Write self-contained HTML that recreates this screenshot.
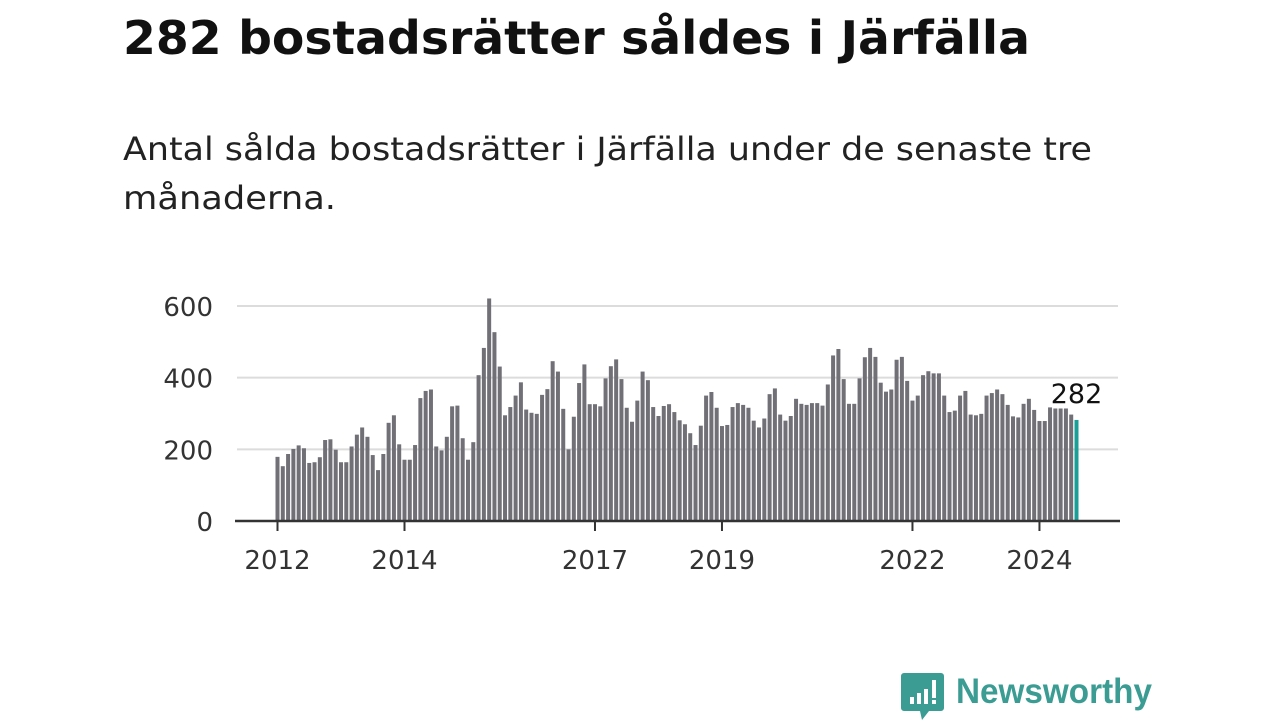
<!DOCTYPE html>
<html><head><meta charset="utf-8"><style>
body{margin:0;width:1280px;height:720px;background:#fff;overflow:hidden;font-family:"DejaVu Sans","Liberation Sans",sans-serif;}
svg{position:absolute;left:0;top:0}
</style></head><body>
<svg width="1280" height="720">
<text x="123" y="54" font-size="46" font-weight="bold" fill="#111" textLength="907" lengthAdjust="spacingAndGlyphs" font-family="DejaVu Sans, sans-serif">282 bostadsrätter såldes i Järfälla</text>
<g font-size="32" fill="#222" font-family="DejaVu Sans, sans-serif">
<text x="123" y="160" textLength="969" lengthAdjust="spacingAndGlyphs">Antal sålda bostadsrätter i Järfälla under de senaste tre</text>
<text x="123" y="209" textLength="213" lengthAdjust="spacingAndGlyphs">månaderna.</text>
</g>
</svg>
<svg id="chart" width="1280" height="720"></svg>
<svg width="1280" height="720">
<path d="M904 673 h37 a3 3 0 0 1 3 3 v32 a3 3 0 0 1 -3 3 h-12 l-7 9 l-2 -9 h-16 a3 3 0 0 1 -3 -3 v-32 a3 3 0 0 1 3 -3z" fill="#3b9c93"/>
<rect x="910" y="697" width="4" height="7" fill="#fff"/><rect x="917" y="693" width="4" height="11" fill="#fff"/><rect x="924" y="689" width="4" height="15" fill="#fff"/><rect x="932" y="680" width="4" height="18" fill="#fff"/><rect x="932" y="700" width="4" height="4" fill="#fff"/>
<text x="956" y="703" font-size="35" font-weight="bold" fill="#3b9c93" textLength="196" lengthAdjust="spacingAndGlyphs" font-family="Liberation Sans, sans-serif">Newsworthy</text>
</svg>
<script>
const values=[179,153,187,201,211,203,162,164,178,226,228,199,164,164,208,241,261,235,184,142,187,274,295,214,171,171,212,343,363,367,208,197,235,320,322,231,171,220,
407,483,621,527,431,295,318,350,387,311,302,299,352,368,446,417,313,200,291,385,437,326,326,320,398,432,451,396,316,277,336,417,393,318,293,321,326,304,281,
270,245,212,266,350,360,316,265,268,318,329,324,316,280,261,286,354,370,297,280,293,341,327,324,329,329,322,381,462,480,396,327,327,398,457,483,458,386,
361,367,450,458,391,336,350,407,418,412,412,350,304,308,350,363,297,295,299,350,357,367,354,324,292,289,327,341,310,279,279,317,314,314,314,297,282];
const yTicks=[0,200,400,600];
const xTickLabels=["2012","2014","2017","2019","2022","2024"];
const xTickIndex=[0,24,60,84,120,144];
const NS="http://www.w3.org/2000/svg";
const svg=document.getElementById('chart');
const y0=521,yTop=306,x0=277.5,x1=1076.5;
const y=v=>y0-(v/600)*(y0-yTop);
const x=i=>x0+i*(x1-x0)/(values.length-1);
function mk(t,a){const e=document.createElementNS(NS,t);for(const k in a)e.setAttribute(k,a[k]);svg.appendChild(e);return e;}
yTicks.forEach(v=>{
 if(v>0){const g=mk('line',{x1:237,x2:1118,y1:y(v),y2:y(v),stroke:'#dcdcdc','stroke-width':2});
 
 }
 const t=mk('text',{x:213,y:y(v)+10,'text-anchor':'end','font-size':26,fill:'#333','font-family':'DejaVu Sans, sans-serif'});
 
 
 t.textContent=v;
});
values.forEach((v,i)=>{
 const last=i===values.length-1;
 const r=mk('rect',{x:x(i)-2,y:y(v),width:4,height:y0-y(v),fill:last?'#1a9e96':'#717076'});
 
 
});
const ax=mk('line',{x1:235,x2:1120,y1:y0,y2:y0,stroke:'#333','stroke-width':2.5});


xTickIndex.forEach((idx,k)=>{
 const tk=mk('line',{x1:x(idx),x2:x(idx),y1:y0,y2:y0+10,stroke:'#333','stroke-width':2});
 
 
 const t=mk('text',{x:x(idx),y:569,'text-anchor':'middle','font-size':26,fill:'#333','font-family':'DejaVu Sans, sans-serif'});
 
 
 t.textContent=xTickLabels[k];
});
const lv=values[values.length-1];
const lb=mk('text',{x:x(values.length-1),y:y(lv)-17,'text-anchor':'middle','font-size':27,fill:'#111',stroke:'#fff','stroke-width':4,'paint-order':'stroke','font-family':'DejaVu Sans, sans-serif'});


lb.textContent=lv;
</script>
</body></html>
